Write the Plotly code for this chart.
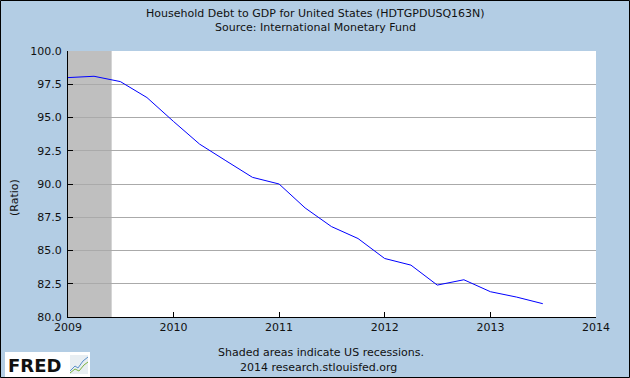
import plotly.graph_objects as go

# ---- data ----
dates = ["2009-01-01", "2009-04-01", "2009-07-01", "2009-10-01",
         "2010-01-01", "2010-04-01", "2010-07-01", "2010-10-01",
         "2011-01-01", "2011-04-01", "2011-07-01", "2011-10-01",
         "2012-01-01", "2012-04-01", "2012-07-01", "2012-10-01",
         "2013-01-01", "2013-04-01", "2013-07-01"]
ratio = [98.0, 98.1, 97.7, 96.5,
         94.7, 93.0, 91.75, 90.5,
         90.0, 88.2, 86.8, 85.9,
         84.4, 83.9, 82.4, 82.8,
         81.9, 81.5, 81.0]
recession_start = "2009-01-01"
recession_end = "2009-06-01"
y_ticks = [80.0, 82.5, 85.0, 87.5, 90.0, 92.5, 95.0, 97.5, 100.0]
x_ticks = ["2009-01-01", "2010-01-01", "2011-01-01", "2012-01-01", "2013-01-01", "2014-01-01"]
x_labels = ["2009", "2010", "2011", "2012", "2013", "2014"]

W, H = 630, 378
ML, MR, MT, MB = 68, 34, 51, 61
PW = W - ML - MR
PH = H - MT - MB


def px(x):
    return (x - ML) / PW


def py(y):
    return (H - MB - y) / PH


BG = "#b3cde4"
FONT = "DejaVu Sans"

fig = go.Figure()
fig.add_trace(go.Scatter(x=dates, y=ratio, mode="lines",
                         line=dict(color="#0000ff", width=1),
                         hoverinfo="x+y", showlegend=False))

shapes = [
    dict(type="rect", xref="x", yref="paper", x0=recession_start, x1=recession_end,
         y0=0, y1=1, fillcolor="#bfbfbf", line=dict(width=0), layer="between"),
    # outer border
    dict(type="rect", xref="paper", yref="paper", x0=px(0.5), x1=px(629.5),
         y0=py(377.5), y1=py(0.5), line=dict(color="#000000", width=1)),
    # FRED logo box
    dict(type="rect", xref="paper", yref="paper", x0=px(5), x1=px(90),
         y0=py(377), y1=py(352), fillcolor="#ffffff", line=dict(width=0)),
    # small chart icon
    dict(type="rect", xref="paper", yref="paper", x0=px(70), x1=px(88),
         y0=py(374), y1=py(355), fillcolor="#e8eef2", line=dict(width=0)),
    dict(type="path", xref="paper", yref="paper",
         path="M %f %f L %f %f L %f %f L %f %f L %f %f" % (
             px(70), py(371), px(75), py(366), px(78), py(368), px(83), py(361), px(88), py(357)),
         line=dict(color="#5a8fc8", width=1)),
    dict(type="path", xref="paper", yref="paper",
         path="M %f %f L %f %f L %f %f L %f %f L %f %f" % (
             px(70), py(373), px(75), py(369), px(79), py(371), px(84), py(365), px(88), py(362)),
         line=dict(color="#7cb342", width=1)),
]

annotations = [
    dict(text="Household Debt to GDP for United States (HDTGPDUSQ163N)", xref="paper", yref="paper",
         x=px(315), y=py(13), showarrow=False, xanchor="center", yanchor="middle",
         font=dict(family=FONT, size=11, color="#111111")),
    dict(text="Source: International Monetary Fund", xref="paper", yref="paper",
         x=px(315), y=py(28), showarrow=False, xanchor="center", yanchor="middle",
         font=dict(family=FONT, size=11, color="#111111")),
    dict(text="(Ratio)", xref="paper", yref="paper", x=px(15), y=py(198), textangle=-90,
         showarrow=False, xanchor="center", yanchor="middle",
         font=dict(family=FONT, size=11, color="#111111")),
    dict(text="Shaded areas indicate US recessions.", xref="paper", yref="paper",
         x=px(321), y=py(352), showarrow=False, xanchor="center", yanchor="middle",
         font=dict(family=FONT, size=11, color="#111111")),
    dict(text="2014 research.stlouisfed.org", xref="paper", yref="paper",
         x=px(318), y=py(367), showarrow=False, xanchor="center", yanchor="middle",
         font=dict(family=FONT, size=11, color="#111111")),
    dict(text="<b>FRED</b>", xref="paper", yref="paper",
         x=px(6), y=py(365), showarrow=False, xanchor="left", yanchor="middle",
         font=dict(family="DejaVu Sans", size=18, color="#111111")),
]

fig.update_layout(
    width=W, height=H,
    margin=dict(l=ML, r=MR, t=MT, b=MB, pad=0),
    paper_bgcolor=BG, plot_bgcolor="#ffffff",
    font=dict(family=FONT, size=11, color="#111111"),
    showlegend=False,
    shapes=shapes,
    annotations=annotations,
    xaxis=dict(type="date", range=["2009-01-01", "2014-01-01"],
               tickvals=x_ticks, ticktext=x_labels,
               ticks="inside", ticklen=5, tickwidth=1, tickcolor="#000000",
               showline=True, linecolor="#000000", linewidth=1,
               showgrid=False, zeroline=False, fixedrange=True,
               tickfont=dict(family=FONT, size=11, color="#111111")),
    yaxis=dict(range=[80, 100], tickvals=y_ticks,
               ticktext=["%.1f" % v for v in y_ticks],
               ticks="inside", ticklen=5, tickwidth=1, tickcolor="#000000",
               showline=True, linecolor="#000000", linewidth=1,
               showgrid=True, gridcolor="#aaaaaa", gridwidth=1,
               zeroline=False, fixedrange=True, ticklabelstandoff=3,
               tickfont=dict(family=FONT, size=11, color="#111111")),
)

fig.write_html("out.html", config={"displayModeBar": False},
               post_script="document.body.style.margin='0';document.body.style.overflow='hidden';")
